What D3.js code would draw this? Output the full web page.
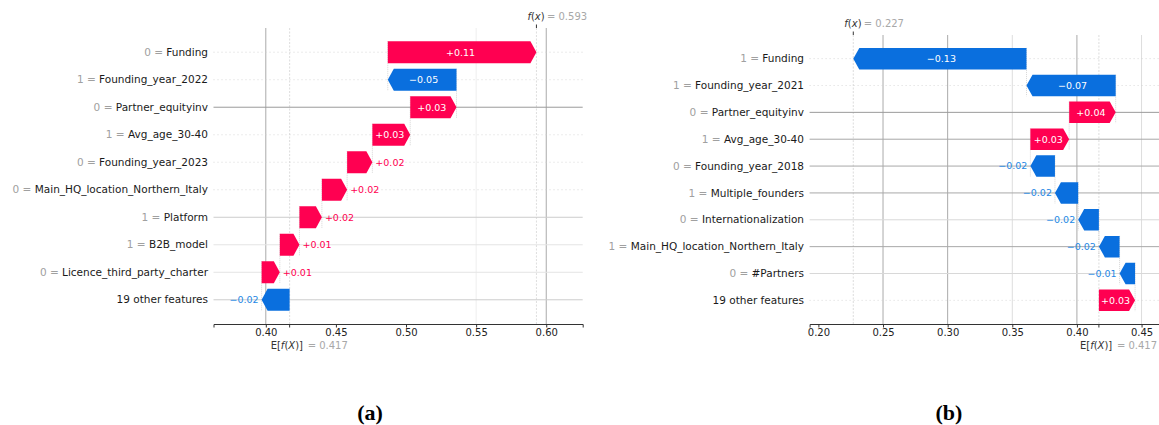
<!DOCTYPE html>
<html><head><meta charset="utf-8">
<script src="https://cdn.jsdelivr.net/npm/d3@7"></script>
<style>
body{margin:0;background:#fff;}
svg{display:block;font-family:"DejaVu Sans",sans-serif;}
</style></head><body>
<svg id="c" width="1159" height="425"></svg>
<script>
// ---------- data ----------
const featA = ["Funding","Founding_year_2022","Partner_equityinv","Avg_age_30-40","Founding_year_2023","Main_HQ_location_Northern_Italy","Platform","B2B_model","Licence_third_party_charter","19 other features"];
const valA  = ["0","1","0","1","0","0","1","1","0",""];
const shapA = [0.106,-0.049,0.033,0.027,0.018,0.018,0.016,0.014,0.013,-0.020];
const baseA = 0.417, fxA = 0.593;
const ticksA = [0.40,0.45,0.50,0.55,0.60];

const featB = ["Funding","Founding_year_2021","Partner_equityinv","Avg_age_30-40","Founding_year_2018","Multiple_founders","Internationalization","Main_HQ_location_Northern_Italy","#Partners","19 other features"];
const valB  = ["1","1","0","1","0","1","0","1","0",""];
const shapB = [-0.134,-0.069,0.036,0.030,-0.019,-0.018,-0.016,-0.016,-0.012,0.028];
const baseB = 0.417, fxB = 0.227;
const ticksB = [0.20,0.25,0.30,0.35,0.40,0.45];

const panelTitles = ["(a)","(b)"];

// ---------- drawing ----------
const svg = d3.select("#c");
const RED="#ff0051", BLUE="#0a6fde", RED_T="#ff0051", BLUE_T="#1e88e5";
const fmt = d3.format("+.2f");

function panel(cfg){
  const {feat,vals,shap,base,fx,ticks,xr,xd,yr,labelX,vgrid,hgrid,title,titleX} = cfg;
  const g = svg.append("g");
  const x = d3.scaleLinear().domain(xd).range(xr);
  const y = d3.scalePoint().domain(d3.range(feat.length)).range(yr).padding(0.88);
  const step = y.step(), h = step*0.8;
  const top = yr[0], bot = yr[1];

  // vertical grid lines
  ticks.forEach((t,i)=>{
    if(!vgrid[i]) return;
    g.append("line").attr("x1",x(t)).attr("x2",x(t)).attr("y1",top).attr("y2",bot)
      .attr("stroke",vgrid[i]).attr("stroke-width",1);
  });
  // base and fx lines
  [base,fx].forEach(v=>{
    g.append("line").attr("x1",x(v)).attr("x2",x(v)).attr("y1",top).attr("y2",bot)
      .attr("stroke","#d4d4d4").attr("stroke-width",0.8).attr("stroke-dasharray","2,1.5");
  });
  // horizontal row lines
  feat.forEach((f,i)=>{
    const s = hgrid[i];
    const ln = g.append("line").attr("x1",xr[0]).attr("x2",xr[1]).attr("y1",y(i)).attr("y2",y(i));
    if(s==="d") ln.attr("stroke","#cfcfcf").attr("stroke-width",0.8).attr("stroke-dasharray","1,3");
    else ln.attr("stroke",s).attr("stroke-width",1);
  });

  // cumulative positions: bottom row starts at base
  const n = feat.length;
  const starts = new Array(n), ends = new Array(n);
  let cur = base;
  for(let i=n-1;i>=0;i--){ starts[i]=cur; ends[i]=cur+shap[i]; cur=ends[i]; }

  // connectors
  for(let i=0;i<n-1;i++){
    const xx = x(starts[i]);
    g.append("line").attr("x1",xx).attr("x2",xx).attr("y1",y(i)-h/2).attr("y2",y(i+1)+h/2)
      .attr("stroke","#bbbbbb").attr("stroke-width",0.6).attr("stroke-dasharray","1,1");
  }

  // bars
  feat.forEach((f,i)=>{
    const x0=x(starts[i]), x1=x(ends[i]), yc=y(i);
    const dir = x1>=x0?1:-1, w=Math.abs(x1-x0);
    const hl = Math.min(6,w);
    const pts = [[x0,yc-h/2],[x1-dir*hl,yc-h/2],[x1,yc],[x1-dir*hl,yc+h/2],[x0,yc+h/2]];
    g.append("path").attr("d",d3.line()(pts)+"Z").attr("fill",dir>0?RED:BLUE);
    const txt = g.append("text").attr("font-size","9.5px").attr("dy","0.35em").attr("y",yc).text(fmt(shap[i]));
    const tw = txt.node().getComputedTextLength();
    if(tw+3 < w){
      txt.attr("x",(x0+x1)/2 - dir*hl/4).attr("text-anchor","middle").attr("fill","#fff");
    } else {
      txt.attr("x",x1+dir*3).attr("text-anchor",dir>0?"start":"end").attr("fill",dir>0?RED_T:BLUE_T);
    }
    // row labels
    const lab = g.append("text").attr("x",labelX).attr("y",yc).attr("dy","0.35em")
      .attr("text-anchor","end").attr("font-size","10.5px").attr("fill","#1a1a1a");
    if(vals[i]!==""){
      lab.append("tspan").attr("fill","#a0a0a0").text(vals[i]+" = ");
    }
    lab.append("tspan").text(f);
  });

  // bottom axis
  const ax = g.append("g").attr("transform",`translate(0,${bot})`)
    .call(d3.axisBottom(x).tickValues(ticks).tickFormat(d3.format(".2f")).tickSizeOuter(0).tickSize(3.5));
  ax.select(".domain").attr("stroke","#333").attr("stroke-width",1);
  ax.selectAll(".tick line").attr("stroke","#333");
  ax.selectAll(".tick text").attr("font-family","DejaVu Sans").attr("font-size","10px").attr("fill","#222").attr("dy","0.5em");
  // base tick
  g.append("line").attr("x1",x(base)).attr("x2",x(base)).attr("y1",bot).attr("y2",bot+3.5).attr("stroke","#333");
  const eb = g.append("text").attr("y",bot+25).attr("font-size","10px");
  eb.append("tspan").attr("x",x(base)-19).attr("fill","#333").html("E[<tspan font-style='italic'>f</tspan>(<tspan font-style='italic'>X</tspan>)]");
  g.append("text").attr("x",x(base)+18).attr("y",bot+25).attr("font-size","10px").attr("fill","#a8a8a8").text("= "+d3.format(".3f")(base));

  // top fx tick & label
  g.append("line").attr("x1",x(fx)).attr("x2",x(fx)).attr("y1",top-3.5).attr("y2",top).attr("stroke","#333");
  const ft = g.append("text").attr("y",top-8).attr("font-size","10px").attr("fill","#333").attr("x",x(fx)-9);
  ft.append("tspan").attr("font-style","italic").text("f");
  ft.append("tspan").text("(");
  ft.append("tspan").attr("font-style","italic").text("x");
  ft.append("tspan").text(")");
  g.append("text").attr("x",x(fx)+10.5).attr("y",top-8).attr("font-size","10px").attr("fill","#a8a8a8").text("= "+d3.format(".3f")(fx));

  // panel title
  g.append("text").attr("x",titleX).attr("y",420).attr("text-anchor","middle")
    .attr("font-family","Liberation Serif, serif").attr("font-weight","bold").attr("font-size","22px").attr("fill","#000").text(title);
}

panel({feat:featA,vals:valA,shap:shapA,base:baseA,fx:fxA,ticks:ticksA,
  xr:[213.5,582.7],xd:[0.3627,0.626],yr:[28,324],labelX:208,
  vgrid:["#aaaaaa",null,null,"#eeeeee","#aaaaaa"],
  hgrid:["d","d","#9a9a9a","d","d","d","#cccccc","#e4e4e4","#e4e4e4","#cccccc"],
  title:panelTitles[0],titleX:370});

panel({feat:featB,vals:valB,shap:shapB,base:baseB,fx:fxB,ticks:ticksB,
  xr:[809.6,1159],xd:[0.1932,0.4635],yr:[35,324],labelX:804,
  vgrid:[null,"#aaaaaa","#aaaaaa","#dddddd","#aaaaaa","#dddddd"],
  hgrid:["d","d","#9a9a9a","#a8a8a8","#a8a8a8","#a8a8a8","#d8d8d8","#a8a8a8","#d8d8d8","d"],
  title:panelTitles[1],titleX:949});
</script>
</body></html>
